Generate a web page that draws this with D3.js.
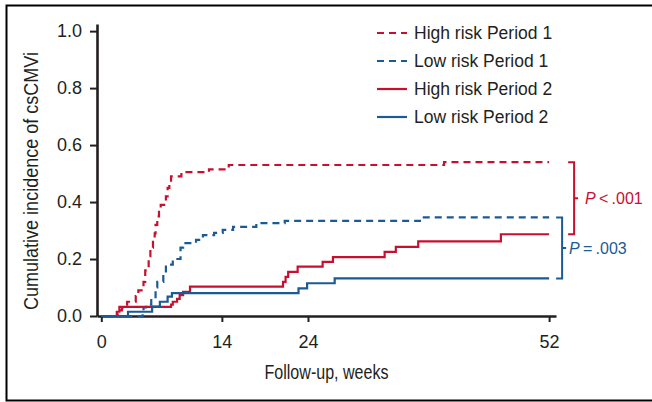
<!DOCTYPE html>
<html>
<head>
<meta charset="utf-8">
<script src="https://cdn.jsdelivr.net/npm/d3@7"></script>
<style>
  body { margin: 0; background: #fff; }
  text { fill: #231f20; font-family: "Liberation Sans", Arial, sans-serif; }
  .title { font-family: "Liberation Sans", Arial, sans-serif; font-size: 20px; }
</style>
</head>
<body>
<div id="chart"></div>
<script>
const width = 652;
const height = 402;

const red = "#c8102e";
const blue = "#1b5a94";
const ink = "#231f20";

const seriesNames = ["High risk Period 1", "Low risk Period 1", "High risk Period 2", "Low risk Period 2"];

// step times (weeks) and cumulative incidence values
const highP1Weeks = [0, 1.9, 2.1, 2.4, 3.0, 4.0, 4.3, 4.9, 5.1, 5.5, 5.7, 6.0, 6.2, 6.3, 6.5, 6.7, 6.9, 7.5, 7.7, 7.9, 8.1, 9.3, 12.5, 14.8, 39.8, 52];
const highP1Values = [0, 0.01, 0.02, 0.03, 0.05, 0.07, 0.09, 0.12, 0.16, 0.21, 0.24, 0.27, 0.29, 0.32, 0.35, 0.37, 0.39, 0.42, 0.45, 0.47, 0.49, 0.505, 0.515, 0.53, 0.54, 0.54];

const lowP1Weeks = [0, 4.8, 4.9, 5.2, 5.8, 6.3, 6.5, 7.2, 7.5, 8.3, 9.2, 9.5, 11.0, 11.8, 13.1, 14.1, 15.3, 18.0, 21.3, 37.0, 52];
const lowP1Values = [0, 0.01, 0.03, 0.04, 0.06, 0.10, 0.12, 0.15, 0.18, 0.20, 0.24, 0.256, 0.267, 0.284, 0.292, 0.302, 0.313, 0.326, 0.334, 0.346, 0.346];

const highP2Weeks = [0, 1.8, 2.1, 8.1, 8.3, 8.8, 9.1, 9.5, 10.3, 21.1, 21.4, 21.7, 22.8, 25.7, 26.9, 32.9, 34.2, 36.8, 46.4, 52];
const highP2Values = [0, 0.015, 0.032, 0.04, 0.05, 0.06, 0.073, 0.085, 0.103, 0.12, 0.137, 0.155, 0.173, 0.19, 0.207, 0.225, 0.243, 0.262, 0.287, 0.287];

const lowP2Weeks = [0, 3.1, 5.9, 6.8, 7.7, 8.2, 22.9, 23.9, 27.1, 52];
const lowP2Values = [0, 0.015, 0.033, 0.05, 0.068, 0.08, 0.097, 0.115, 0.132, 0.132];

const xTicks = [0, 14, 24, 52];
const yTicks = [0, 0.2, 0.4, 0.6, 0.8, 1.0];
const pLabels = ["< .001", "= .003"];

const series = [
  { name: seriesNames[0], weeks: highP1Weeks, values: highP1Values, color: red, dash: "7,5" },
  { name: seriesNames[1], weeks: lowP1Weeks, values: lowP1Values, color: blue, dash: "7,5" },
  { name: seriesNames[2], weeks: highP2Weeks, values: highP2Values, color: red, dash: null },
  { name: seriesNames[3], weeks: lowP2Weeks, values: lowP2Values, color: blue, dash: null },
];

const svg = d3.select("#chart").append("svg")
  .attr("width", width)
  .attr("height", height);

// frame
svg.append("rect")
  .attr("x", 6.5).attr("y", 5.5)
  .attr("width", 700).attr("height", 395)
  .attr("fill", "none")
  .attr("stroke", "#000")
  .attr("stroke-width", 2);

const xScale = d3.scaleLinear().domain([-0.5, 52.8]).range([97, 556]);
const yScale = d3.scaleLinear().domain([0, 1.025]).range([316, 24]);

// axes
const xAxis = svg.append("g")
  .attr("transform", `translate(0,${yScale(0)})`)
  .call(d3.axisBottom(xScale).tickValues(xTicks).tickSize(6).tickSizeOuter(0).tickPadding(13).tickFormat(d3.format("d")));
const yAxis = svg.append("g")
  .attr("transform", `translate(${xScale(-0.5)},0)`)
  .call(d3.axisLeft(yScale).tickValues(yTicks).tickSize(7).tickSizeOuter(0).tickPadding(8).tickFormat(d3.format(".1f")));

[xAxis, yAxis].forEach((a) => {
  a.select(".domain").attr("stroke", ink).attr("stroke-width", 2.6);
  a.selectAll(".tick line").attr("stroke", ink).attr("stroke-width", 2);
  a.selectAll(".tick text").attr("fill", ink).style("font-size", "18px")
    .style("font-family", '"Liberation Sans", Arial, sans-serif');
});

// axis titles (condensed face squeezed to the measured length)
svg.append("text")
  .attr("class", "title")
  .attr("x", (xScale.range()[0] + xScale.range()[1]) / 2)
  .attr("y", 379)
  .attr("text-anchor", "middle")
  .attr("textLength", 124)
  .attr("lengthAdjust", "spacingAndGlyphs")
  .text("Follow-up, weeks");

svg.append("text")
  .attr("class", "title")
  .attr("transform", "translate(38,181) rotate(-90)")
  .attr("text-anchor", "middle")
  .attr("textLength", 258)
  .attr("lengthAdjust", "spacingAndGlyphs")
  .text("Cumulative incidence of csCMVi");

// curves
const line = d3.line()
  .x((d) => xScale(d[0]))
  .y((d) => yScale(d[1]))
  .curve(d3.curveStepAfter);

svg.append("g")
  .selectAll("path")
  .data(series)
  .enter()
  .append("path")
  .attr("d", (s) => line(d3.zip(s.weeks, s.values)))
  .attr("fill", "none")
  .attr("stroke", (s) => s.color)
  .attr("stroke-width", 2.2)
  .attr("stroke-dasharray", (s) => s.dash);

// brackets
const brackets = [
  { top: highP1Values[highP1Values.length - 1], bottom: highP2Values[highP2Values.length - 1], color: red, off: 25, label: pLabels[0] },
  { top: lowP1Values[lowP1Values.length - 1], bottom: lowP2Values[lowP2Values.length - 1], color: blue, off: 13, label: pLabels[1] },
];

brackets.forEach((b) => {
  const bx = xScale(52) + b.off;
  const y0 = yScale(b.top);
  const y1 = yScale(b.bottom);
  const ym = (y0 + y1) / 2;
  svg.append("path")
    .attr("d", `M${bx - 6},${y0}H${bx}V${y1}H${bx - 6}M${bx},${ym}H${bx + 4}`)
    .attr("fill", "none")
    .attr("stroke", b.color)
    .attr("stroke-width", 2);
  const t = svg.append("text")
    .attr("x", bx + (b.off > 20 ? 11 : 7))
    .attr("y", ym)
    .attr("dy", "0.35em")
    .style("font-size", "16px")
    .style("fill", b.color);
  t.append("tspan").style("font-style", "italic").style("fill", b.color).text("P");
  t.append("tspan").style("fill", b.color).text("\u2009" + b.label.replace(" ", "\u2009"));
});

// legend
const legend = svg.append("g")
  .selectAll("g")
  .data(series)
  .enter()
  .append("g")
  .attr("transform", (d, i) => `translate(377,${33 + i * 28})`);

legend.append("line")
  .attr("x1", 0).attr("x2", 30)
  .attr("stroke", (d) => d.color)
  .attr("stroke-width", 2.2)
  .attr("stroke-dasharray", (d) => d.dash);

legend.append("text")
  .attr("x", 37)
  .attr("dy", "0.36em")
  .style("font-size", "17.5px")
  .text((d) => d.name);
</script>
</body>
</html>
